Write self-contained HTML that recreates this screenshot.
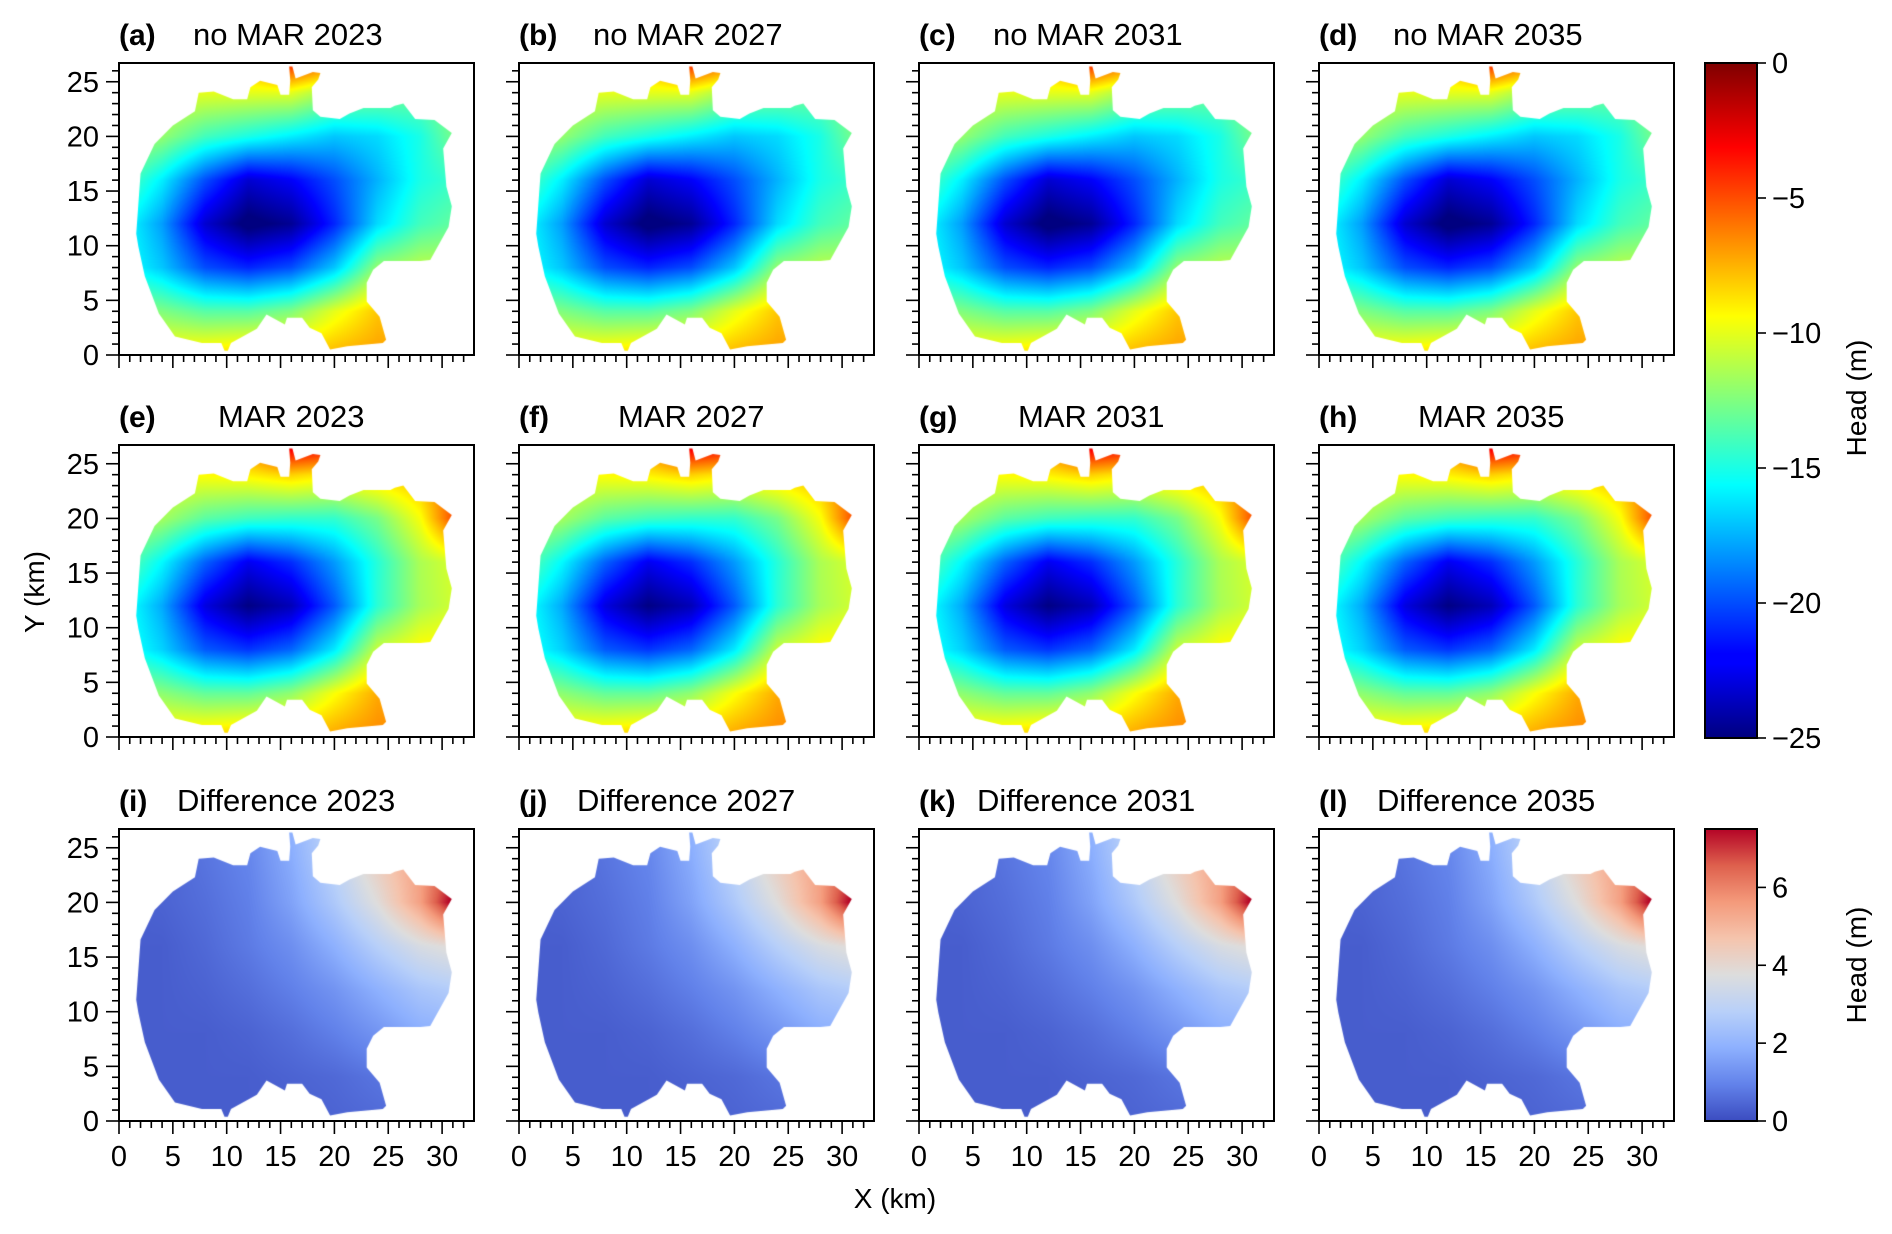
<!DOCTYPE html>
<html><head><meta charset="utf-8">
<style>
html,body{margin:0;padding:0;background:#fff;}
#wrap{position:relative;width:1892px;height:1234px;overflow:hidden;font-family:"Liberation Sans",Arial,sans-serif;}
#fields{position:absolute;left:0;top:0;}
#ov{position:absolute;left:0;top:0;}
</style></head>
<body>
<div id="wrap">
<canvas id="fields" width="1892" height="1234"></canvas>
<svg id="ov" width="1892" height="1234" xmlns="http://www.w3.org/2000/svg">
<defs>
<linearGradient id="jetg" x1="0" y1="1" x2="0" y2="0">
<stop offset="0" stop-color="#00007f"/><stop offset="0.11" stop-color="#0000ff"/><stop offset="0.125" stop-color="#0000ff"/>
<stop offset="0.375" stop-color="#00ffff"/><stop offset="0.625" stop-color="#ffff00"/><stop offset="0.875" stop-color="#ff0000"/><stop offset="1" stop-color="#7f0000"/>
</linearGradient>
<linearGradient id="cwg" x1="0" y1="1" x2="0" y2="0">
<stop offset="0" stop-color="rgb(59,76,192)"/><stop offset="0.125" stop-color="rgb(98,130,234)"/><stop offset="0.25" stop-color="rgb(141,176,254)"/>
<stop offset="0.375" stop-color="rgb(184,208,249)"/><stop offset="0.5" stop-color="rgb(221,221,221)"/><stop offset="0.625" stop-color="rgb(245,196,173)"/>
<stop offset="0.75" stop-color="rgb(244,154,123)"/><stop offset="0.875" stop-color="rgb(222,96,77)"/><stop offset="1" stop-color="rgb(180,4,38)"/>
</linearGradient>
</defs>
<g id="g"></g>
</svg>
</div>
<script>
// ---- data ----
const gridX = [0,4,8,12,16,20,24,28,32];
const gridY = [0,4,8,12,16,20,24,28];
const noMarHead = [
 [-9,-9,-8.5,-8,-8,-7.5,-7,-7,-7],
 [-12,-12.5,-13.5,-13.5,-12.5,-10,-8,-8,-9],
 [-15,-17,-20,-21,-20,-17,-12,-11,-11],
 [-15,-18,-23,-25.5,-24.5,-21,-16.5,-14,-13],
 [-13,-16,-20,-23,-22,-20,-17.5,-15,-14],
 [-11,-12,-14,-15,-16,-17,-16.5,-15,-12],
 [-9,-10,-10,-10,-10,-12,-12.5,-13,-12],
 [-6,-6,-6,-6,-1,-3,-8,-10,-10]
];
const diffHead = [
 [0.3,0.3,0.3,0.3,0.3,0.4,0.5,0.6,0.7],
 [0.3,0.3,0.3,0.3,0.4,0.5,0.7,0.9,1.0],
 [0.3,0.3,0.3,0.4,0.6,0.9,1.3,1.8,2.0],
 [0.3,0.3,0.4,0.6,0.9,1.3,1.9,2.5,2.8],
 [0.3,0.3,0.5,0.8,1.2,1.9,2.8,3.6,4.0],
 [0.3,0.4,0.6,0.9,1.6,2.6,3.8,5.5,8.5],
 [0.3,0.4,0.7,1.0,1.8,3.0,4.4,5.5,7.0],
 [0.3,0.4,0.8,1.1,2.0,3.2,4.8,5.8,6.5]
];
const years = ["2023","2027","2031","2035"];
const rowTitles = ["no MAR","MAR","Difference"];
const letters = [["a","b","c","d"],["e","f","g","h"],["i","j","k","l"]];
const xTicks = [0,5,10,15,20,25,30];
const yTicks = [0,5,10,15,20,25];
const jetTicks = [0,-5,-10,-15,-20,-25];
const diffTicks = [0,2,4,6];
const domainPoly = [[1.6,11.1],[2.0,16.6],[3.3,19.3],[5.0,21.0],[7.05,22.3],[7.4,24.0],[8.8,24.1],[10.6,23.4],[11.9,23.4],[12.2,24.5],[13.1,25.1],[14.7,24.7],[15.0,23.8],[15.8,23.8],[15.9,25.1],[15.8,26.4],[16.1,26.4],[16.4,25.3],[18.0,25.9],[18.7,25.8],[18.5,25.2],[17.9,24.5],[18.0,22.4],[18.7,21.8],[20.5,21.6],[21.4,22.1],[22.7,22.6],[25.2,22.6],[25.6,22.8],[26.4,23.0],[27.5,21.6],[29.3,21.5],[30.9,20.3],[30.1,18.9],[30.4,15.4],[30.9,13.6],[30.6,11.7],[28.9,8.7],[28.0,8.6],[24.6,8.6],[23.6,7.8],[23.0,6.6],[23.0,4.9],[24.2,3.5],[24.8,1.4],[24.5,1.1],[21.2,0.8],[19.6,0.5],[18.8,2.0],[17.7,2.5],[17.0,3.4],[15.6,3.4],[15.4,2.8],[13.7,3.7],[12.8,2.4],[10.4,1.1],[10.1,0.4],[9.8,0.4],[9.5,1.1],[7.7,1.1],[5.2,1.7],[3.7,3.8],[2.4,7.2],[1.8,9.9]];

// ---- layout ----
const colLeft=[119,519,919,1319], rowTop=[63,445,829], PW=355, PH=292;
const pxPerKmX=10.77, pxPerKmY=10.93;
const xScale=(l,x)=>l+x*pxPerKmX;
const yScale=(t,y)=>t+PH-y*pxPerKmY;
const NS="http://www.w3.org/2000/svg";
const G=document.getElementById('g');
function el(tag,attrs,text){const e=document.createElementNS(NS,tag);for(const k in attrs)e.setAttribute(k,attrs[k]);if(text!==undefined)e.textContent=text;G.appendChild(e);return e;}

function bilin(grid,x,y){
  let fx=Math.max(0,Math.min(gridX.length-1.0001,x/4)), fy=Math.max(0,Math.min(gridY.length-1.0001,y/4));
  const i=Math.floor(fx), j=Math.floor(fy);
  const tx=fx-i, ty=fy-j;
  const a=grid[j][i],b=grid[j][i+1],c=grid[j+1][i],d=grid[j+1][i+1];
  return (a*(1-tx)+b*tx)*(1-ty)+(c*(1-tx)+d*tx)*ty;
}
const cl=v=>Math.max(0,Math.min(1,v));
function jet(v){const t=cl((v+25)/25);return [cl(1.5-Math.abs(4*t-3)),cl(1.5-Math.abs(4*t-2)),cl(1.5-Math.abs(4*t-1))].map(c=>c*255);}
const cw=[[59,76,192],[98,130,234],[141,176,254],[184,208,249],[221,221,221],[245,196,173],[244,154,123],[222,96,77],[180,4,38]];
function coolwarm(v){const t=cl(v/7.5)*8;const i=Math.min(7,Math.floor(t)),f=t-i;return cw[i].map((c,k)=>c+(cw[i+1][k]-c)*f);}

// mask
const mc=document.createElement('canvas');mc.width=PW;mc.height=PH;
const mx=mc.getContext('2d');mx.beginPath();
domainPoly.forEach((p,k)=>{const X=p[0]*pxPerKmX,Y=PH-p[1]*pxPerKmY;k?mx.lineTo(X,Y):mx.moveTo(X,Y);});
mx.closePath();mx.fillStyle='#000';mx.fill();
const mask=mx.getImageData(0,0,PW,PH).data;

const ctx=document.getElementById('fields').getContext('2d');
for(let r=0;r<3;r++)for(let c=0;c<4;c++){
  const img=ctx.createImageData(PW,PH);
  for(let py=0;py<PH;py++)for(let px=0;px<PW;px++){
    const idx=(py*PW+px)*4;const a=mask[idx+3];if(a<10)continue;
    const x=(px+0.5)/pxPerKmX,y=(PH-py-0.5)/pxPerKmY;
    let col;
    if(r===0)col=jet(bilin(noMarHead,x,y));
    else if(r===1)col=jet(bilin(noMarHead,x,y)+bilin(diffHead,x,y));
    else col=coolwarm(bilin(diffHead,x,y));
    img.data[idx]=col[0];img.data[idx+1]=col[1];img.data[idx+2]=col[2];img.data[idx+3]=a;
  }
  const oc=document.createElement('canvas');oc.width=PW;oc.height=PH;oc.getContext('2d').putImageData(img,0,0);
  ctx.drawImage(oc,colLeft[c],rowTop[r]);
}

// axes
const titleOff=[74,99,58];
for(let r=0;r<3;r++)for(let c=0;c<4;c++){
  const L=colLeft[c],T=rowTop[r],B=T+PH;
  const fr=el('rect',{x:L,y:T,width:PW,height:PH,fill:'none',stroke:'#000','stroke-width':2});
  
  
  for(let k=0;k<=26;k++){const yy=yScale(T,k);const maj=k%5===0;
    const t=el('line',{x1:L-(maj?13:7),x2:L,y1:yy,y2:yy,stroke:'#000','stroke-width':1.6});
    
    }
  for(let k=0;k<=32;k++){const xx=xScale(L,k);const maj=k%5===0;
    const t=el('line',{x1:xx,x2:xx,y1:B,y2:B+(maj?13:7),stroke:'#000','stroke-width':1.6});
    
    }
  if(c===0)yTicks.forEach(v=>{const t=el('text',{x:L-20,y:yScale(T,v)+10,'text-anchor':'end','font-size':29},String(v));
    
    });
  if(r===2)xTicks.forEach(v=>{const t=el('text',{x:xScale(L,v),y:B+45,'text-anchor':'middle','font-size':29},String(v));
    
    });
  const lt=el('text',{x:L,y:T-18,'font-size':30,'font-weight':'bold'},'('+letters[r][c]+')');
  
  
  const tt=el('text',{x:L+titleOff[r],y:T-18,'font-size':31},rowTitles[r]+' '+years[c]);
  
  
}
// axis titles
let a1=el('text',{x:0,y:0,'font-size':28,'text-anchor':'middle',transform:'translate(44,592) rotate(-90)'},'Y (km)');


let a2=el('text',{x:895,y:1208,'font-size':28,'text-anchor':'middle'},'X (km)');



// colorbars
function colorbar(top,bottom,vmin,vmax,ticks,grad,name,labelY){
  const X=1705,W=52;
  const rc=el('rect',{x:X,y:top,width:W,height:bottom-top,fill:'url(#'+grad+')',stroke:'#000','stroke-width':2});
  
  
  ticks.forEach(v=>{const yy=bottom-(v-vmin)/(vmax-vmin)*(bottom-top);
    const l=el('line',{x1:X+W,x2:X+W+9,y1:yy,y2:yy,stroke:'#000','stroke-width':1.6});
    
    
    const t=el('text',{x:1772,y:yy+10,'font-size':29},v<0?'\u2212'+(-v):String(v));
    
    });
  const lb=el('text',{x:0,y:0,'font-size':28,'text-anchor':'middle',transform:'translate(1866,'+labelY+') rotate(-90)'},'Head (m)');
  
  
}
colorbar(63,738,-25,0,jetTicks,'jetg','head-colorbar',398);
colorbar(829,1121,0,7.5,diffTicks,'cwg','difference-colorbar',965);
</script>
</body></html>
